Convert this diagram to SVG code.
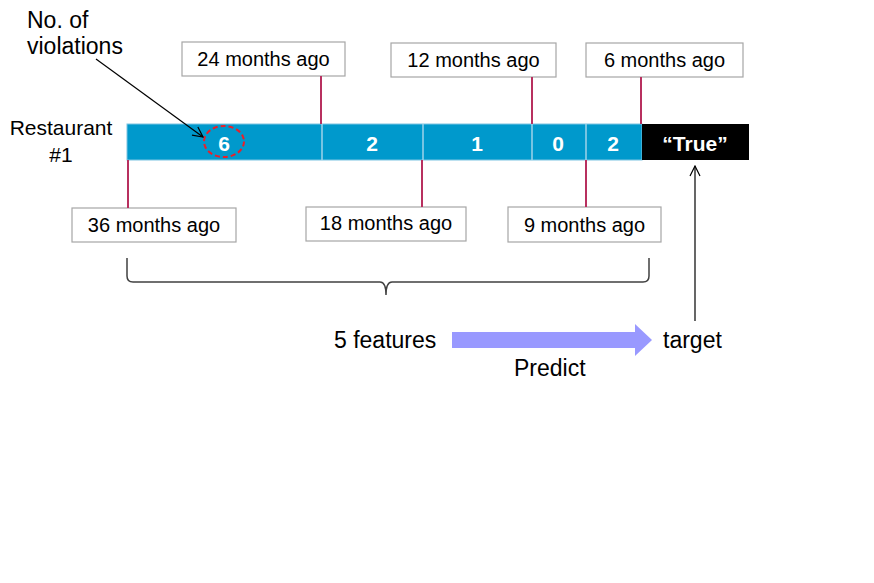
<svg xmlns="http://www.w3.org/2000/svg" width="874" height="583" viewBox="0 0 874 583">
<style>
text{font-family:"Liberation Sans",Arial,sans-serif;fill:#000}
.lbl{font-size:20px;text-anchor:middle}
.rest{font-size:21px;text-anchor:middle}
.box{fill:#fff;stroke:#a6a6a6;stroke-width:1.2}
.tick{stroke:#b8305f;stroke-width:2}
.num{font-size:21px;font-weight:bold;fill:#fff;text-anchor:middle}
.big{font-size:23px}
.seg{fill:#0099cc}
.div{stroke:#9fd3ea;stroke-width:1.5}
</style>
<defs>
<marker id="open" viewBox="0 0 12 14" refX="11" refY="7" markerWidth="12" markerHeight="14" markerUnits="userSpaceOnUse" orient="auto">
<path d="M1,2 L11,7 L1,12" fill="none" stroke="#000" stroke-width="1.2"/>
</marker>
</defs>
<rect width="874" height="583" fill="#fff"/>
<g id="timeline">
<rect class="seg" x="127" y="124" width="515" height="36" stroke="#7cc4e2" stroke-width="1"/>
<rect x="642" y="124" width="107" height="36" fill="#000"/>
<line class="div" x1="322" y1="124" x2="322" y2="160"/>
<line class="div" x1="423" y1="124" x2="423" y2="160"/>
<line class="div" x1="532" y1="124" x2="532" y2="160"/>
<line class="div" x1="586" y1="124" x2="586" y2="160"/>
<text class="num" x="224" y="151">6</text>
<text class="num" x="372" y="151">2</text>
<text class="num" x="477" y="151">1</text>
<text class="num" x="558" y="151">0</text>
<text class="num" x="613" y="151">2</text>
<text class="num" x="695" y="151" font-size="23">“True”</text>
<ellipse cx="224" cy="141.5" rx="20" ry="15.5" fill="none" stroke="#e8202a" stroke-width="2" stroke-dasharray="5,3"/>
</g>
<g id="restaurant">
<text class="rest" x="61" y="135">Restaurant</text>
<text class="rest" x="61" y="162">#1</text>
</g>
<g id="violations-label">
<text class="big" x="27" y="28">No. of</text>
<text class="big" x="27" y="54">violations</text>
</g>
<g id="m24"><rect class="box" x="182" y="42" width="163" height="34"/><text class="lbl" x="263.5" y="66">24 months ago</text></g>
<g id="m12"><rect class="box" x="391" y="43" width="165" height="34"/><text class="lbl" x="473.5" y="67">12 months ago</text></g>
<g id="m6"><rect class="box" x="586" y="43" width="157" height="34"/><text class="lbl" x="664.5" y="67">6 months ago</text></g>
<g id="m36"><rect class="box" x="72" y="208" width="164" height="34"/><text class="lbl" x="154" y="232">36 months ago</text></g>
<g id="m18"><rect class="box" x="306" y="207" width="160" height="34"/><text class="lbl" x="386" y="230">18 months ago</text></g>
<g id="m9"><rect class="box" x="508" y="207" width="153" height="35"/><text class="lbl" x="584.5" y="232">9 months ago</text></g>
<g id="features"><text class="big" x="334" y="348">5 features</text></g>
<g id="target"><text class="big" x="663" y="348">target</text></g>
<g id="predict"><text class="big" x="514" y="376">Predict</text></g>
<g id="connectors">
<line class="tick" x1="321" y1="76" x2="321" y2="124"/>
<line class="tick" x1="532" y1="77" x2="532" y2="124"/>
<line class="tick" x1="641" y1="77" x2="641" y2="124"/>
<line class="tick" x1="128" y1="160" x2="128" y2="208"/>
<line class="tick" x1="422" y1="160" x2="422" y2="207"/>
<line class="tick" x1="586" y1="160" x2="586" y2="207"/>
<line x1="96" y1="59" x2="203" y2="137" stroke="#000" stroke-width="1.2" marker-end="url(#open)"/>
<line x1="695" y1="321" x2="695" y2="166" stroke="#000" stroke-width="1.2" marker-end="url(#open)"/>
<path d="M127,258 L127,276 Q127,282 133,282 L380,282 Q386,282 386,295 Q386,282 392,282 L643,282 Q649,282 649,276 L649,258" fill="none" stroke="#404040" stroke-width="1.5"/>
<path d="M452,332 L635,332 L635,324 L652,340 L635,356 L635,348 L452,348 Z" fill="#9999ff"/>
</g>
</svg>
